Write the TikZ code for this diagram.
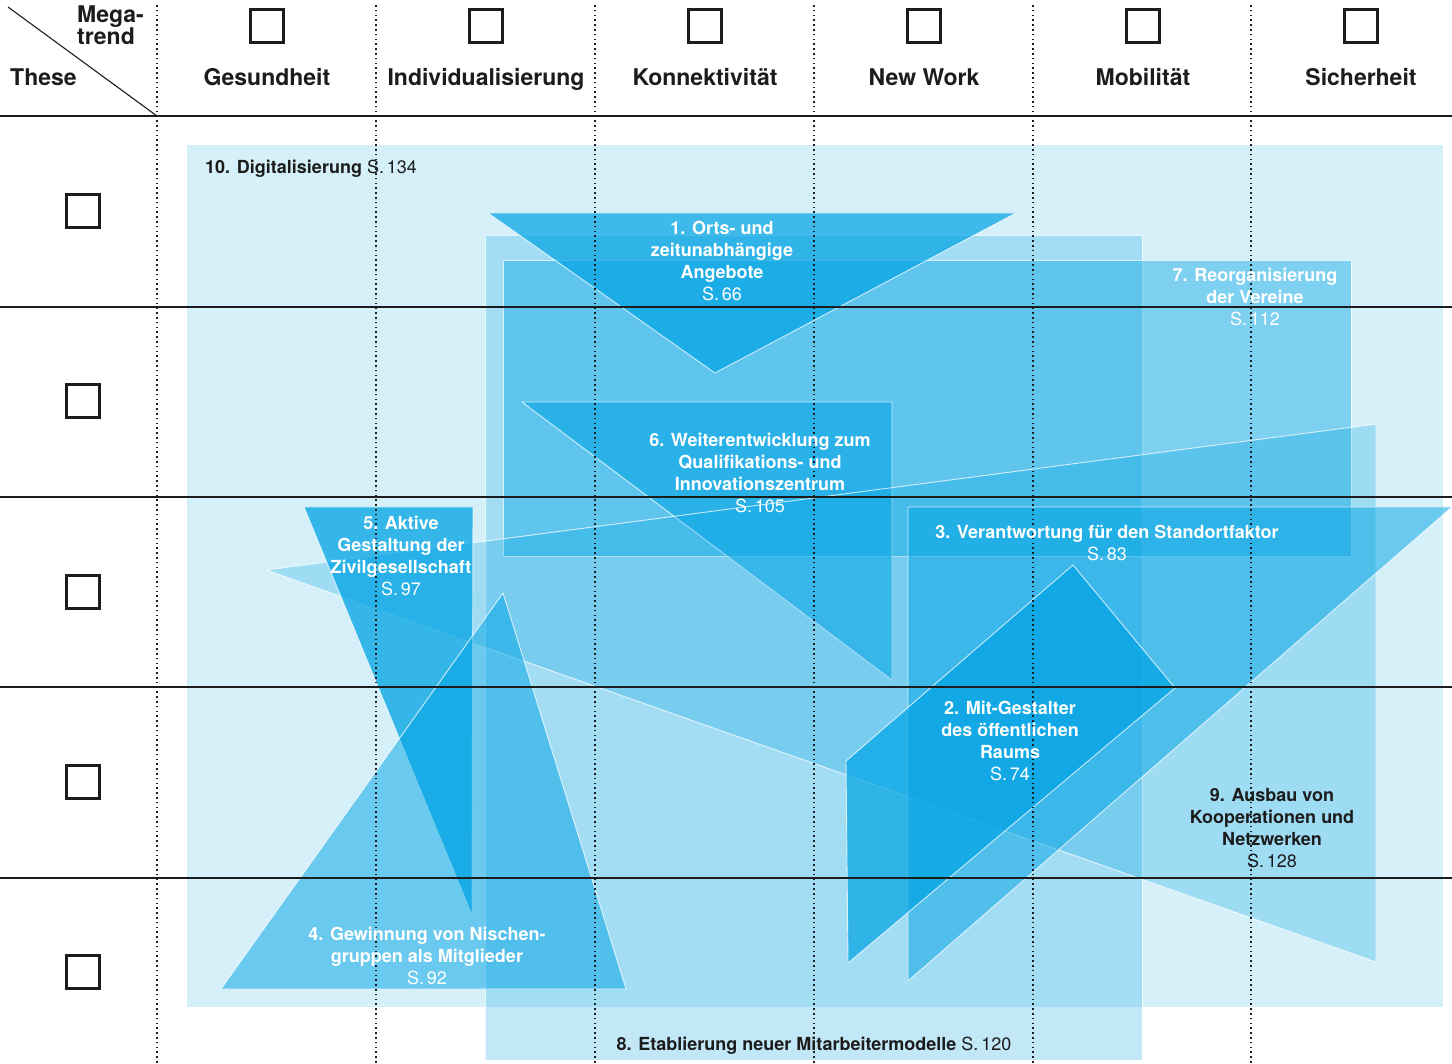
\documentclass[tikz,border=0pt]{standalone}
\usepackage{fontspec}
\setmainfont{TeX Gyre Heros}
\newcommand\seite[1]{S.\hspace{0.16em}#1}
\begin{document}
\begin{tikzpicture}[x=1pt,y=-1pt]
\definecolor{cy}{RGB}{0,163,228}
\definecolor{ink}{RGB}{28,28,28}
\tikzset{
 shp/.style={fill=cy, fill opacity=#1, draw=white, draw opacity=0.75, line width=0.9pt, line join=round},
 gridrow/.style={draw=ink, line width=1.1pt},
 gridcol/.style={draw=ink, line width=1.4pt, dash pattern=on 1.6pt off 3.2pt},
 box/.style={draw=ink, line width=3pt, minimum size=33pt, inner sep=0pt},
 head/.style={font=\fontsize{23}{18.5}\selectfont\bfseries, text=ink, inner sep=0pt},
 lblw/.style={font=\fontsize{18}{22.2}\selectfont, text=white, align=center, inner sep=0pt},
 lbld/.style={lblw, text=ink},
}
\useasboundingbox (0,0) rectangle (1452,1064);
\fill[white] (0,0) rectangle (1452,1064);

% shapes
\path[shp=0.16, draw=none] (187,145) rectangle (1443,1007);
\path[shp=0.24] (485,235) rectangle (1142,1060);
\path[shp=0.41] (503,260) rectangle (1351,556);
\path[shp=0.7] (488,213) -- (1016,213) -- (715,373) -- cycle;
\path[shp=0.55] (522,402) -- (892,402) -- (892,680) -- cycle;
\path[shp=0.26] (266,570) -- (1376,424) -- (1376,962) -- cycle;
\path[shp=0.75] (304,507) -- (473,507) -- (472,915) -- cycle;
\path[shp=0.5] (503,593) -- (626,989) -- (221,989) -- cycle;
\path[shp=0.5] (908,507) -- (1452,507) -- (908,981) -- cycle;
\path[shp=0.7] (1073,565) -- (1175,688) -- (848,963) -- (846,761) -- cycle;

% grid
\foreach \x in {157,376,595,814,1033,1251} \draw[gridcol] (\x,5) -- (\x,1064);
\foreach \y in {116,307,497,687,878} \draw[gridrow] (0,\y) -- (1452,\y);
\draw[ink, line width=1.1pt] (8,7) -- (157,116);

% header
\node[head, align=left, anchor=base west] (mega) at (77,45) {Mega-\\trend};
\node[head, anchor=base west] (these) at (10,85.5) {These};
\foreach \x/\t/\n in {267/Gesundheit/g,486/Individualisierung/i,705/Konnektivität/k,924/New Work/w,1143/Mobilität/m,1361/Sicherheit/s}{
  \node[head, anchor=base] (col\n) at (\x,85.5) {\t};
  \node[box] (sq\n) at (\x,26.5) {};
}
\foreach \y/\n in {211.5/1,401.5/2,591.5/3,781.5/4,971.5/5}
  \node[box] (th\n) at (83,\y) {};

% labels
\node[lbld, anchor=west] (l10) at (205,168.5) {\textbf{10. Digitalisierung} \seite{134}};
\node[lblw] (l1) at (722,261) {\textbf{1. Orts- und}\\\textbf{zeitunabhängige}\\\textbf{Angebote}\\\seite{66}};
\node[lblw] (l7) at (1255,297) {\textbf{7. Reorganisierung}\\\textbf{der Vereine}\\\seite{112}};
\node[lblw] (l6) at (760,473) {\textbf{6. Weiterentwicklung zum}\\\textbf{Qualifikations- und}\\\textbf{Innovationszentrum}\\\seite{105}};
\node[lblw] (l5) at (401,556) {\textbf{5. Aktive}\\\textbf{Gestaltung der}\\\textbf{Zivilgesellschaft}\\\seite{97}};
\node[lblw] (l3) at (1107,543) {\textbf{3. Verantwortung für den Standortfaktor}\\\seite{83}};
\node[lblw] (l2) at (1010,741) {\textbf{2. Mit-Gestalter}\\\textbf{des öffentlichen}\\\textbf{Raums}\\\seite{74}};
\node[lbld] (l9) at (1272,828) {\textbf{9. Ausbau von}\\\textbf{Kooperationen und}\\\textbf{Netzwerken}\\\seite{128}};
\node[lblw] (l4) at (427,956) {\textbf{4. Gewinnung von Nischen-}\\\textbf{gruppen als Mitglieder}\\\seite{92}};
\node[lbld] (l8) at (814,1045.5) {\textbf{8. Etablierung neuer Mitarbeitermodelle} \seite{120}};
\end{tikzpicture}
\end{document}
